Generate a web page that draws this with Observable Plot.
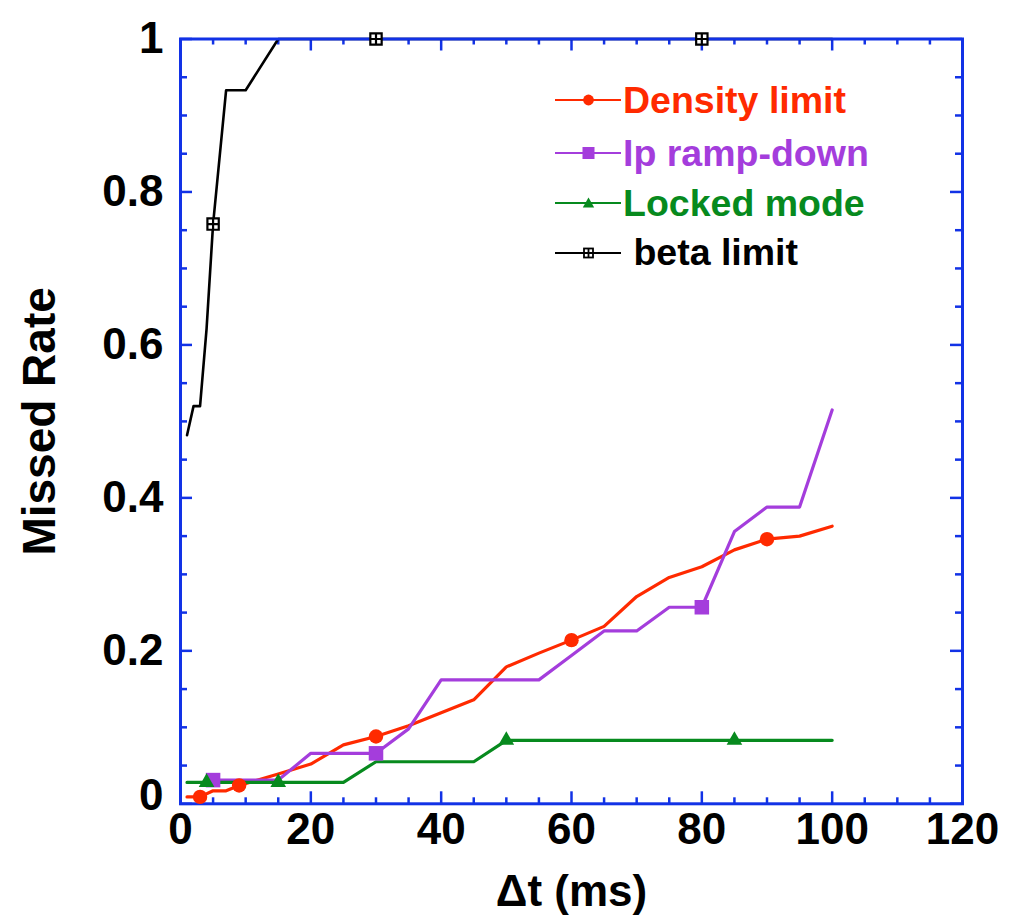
<!DOCTYPE html>
<html><head><meta charset="utf-8">
<script src="https://cdn.jsdelivr.net/npm/d3@7"></script>
<script src="https://cdn.jsdelivr.net/npm/@observablehq/plot@0.6"></script>
<style>
html,body{margin:0;padding:0;background:#fff;}
#wrap{position:relative;width:1024px;height:917px;}
.leg{position:absolute;left:555px;height:44px;display:flex;align-items:center;font-family:"Liberation Sans",Arial,sans-serif;font-weight:bold;font-size:37.5px;white-space:pre;}
.leg svg{display:block;margin-right:2px;}
</style></head>
<body><div id="wrap"></div>
<script>
// ---- data ----
const densityX = [1, 3, 5, 7, 9, 15, 20, 25, 30, 35, 40, 45, 50, 55, 60, 65, 70, 75, 80, 85, 90, 95, 100];
const densityY = [0.009, 0.009, 0.017, 0.017, 0.024, 0.039, 0.052, 0.077, 0.088, 0.102, 0.119, 0.136, 0.179, 0.197, 0.214, 0.232, 0.271, 0.296, 0.310, 0.332, 0.346, 0.350, 0.363];
const densityMarkX = [3, 9, 30, 60, 90];

const rampX = [5, 10, 15, 20, 25, 30, 35, 40, 45, 50, 55, 60, 65, 70, 75, 80, 85, 90, 95, 100];
const rampY = [0.031, 0.031, 0.031, 0.066, 0.066, 0.066, 0.098, 0.162, 0.162, 0.162, 0.162, 0.194, 0.226, 0.226, 0.257, 0.257, 0.356, 0.388, 0.388, 0.515];
const rampMarkX = [5, 30, 80];

const lockedX = [1, 4, 10, 15, 20, 25, 30, 35, 40, 45, 50, 55, 60, 65, 70, 75, 80, 85, 90, 95, 100];
const lockedY = [0.028, 0.028, 0.028, 0.028, 0.028, 0.028, 0.055, 0.055, 0.055, 0.055, 0.083, 0.083, 0.083, 0.083, 0.083, 0.083, 0.083, 0.083, 0.083, 0.083, 0.083];
const lockedMarkX = [4, 15, 50, 85];

const betaX = [1, 2, 3, 4, 5, 7, 10, 15, 20, 25, 30, 35, 40, 45, 50, 55, 60, 65, 70, 75, 80, 85, 90, 95, 100];
const betaY = [0.482, 0.52, 0.52, 0.621, 0.758, 0.933, 0.933, 1, 1, 1, 1, 1, 1, 1, 1, 1, 1, 1, 1, 1, 1, 1, 1, 1, 1];
const betaMarkX = [5, 30, 80];

const seriesNames = ["Density limit", "Ip ramp-down", "Locked mode", " beta limit"];
const xTicks = [0, 20, 40, 60, 80, 100, 120];
const xMinor = [5, 10, 15, 25, 30, 35, 45, 50, 55, 65, 70, 75, 85, 90, 95, 105, 110, 115];
const yTicks = [0, 0.2, 0.4, 0.6, 0.8, 1];
const yMinor = [0.05, 0.1, 0.15, 0.25, 0.3, 0.35, 0.45, 0.5, 0.55, 0.65, 0.7, 0.75, 0.85, 0.9, 0.95];
const xLabel = "Δt (ms)";
const yLabel = "Missed Rate";

// ---- styles ----
const RED = "#ff2a00", PURPLE = "#a43ddc", GREEN = "#078a1e", BLACK = "#000000", BLUE = "#1232e6";
const W = 1024, H = 917, mL = 180, mR = 62, mT = 38.5, mB = 113.7;
const plotW = W - mL - mR, plotH = H - mT - mB;

const rows = (xs, ys) => xs.map((x, i) => ({x, y: ys[i]}));
const marks = (xs, ys, mx) => rows(xs, ys).filter(d => mx.includes(d.x));
const dens = rows(densityX, densityY), ramp = rows(rampX, rampY), lock = rows(lockedX, lockedY), beta = rows(betaX, betaY);

const boxPlus = {draw(ctx, size) {
  const s = Math.sqrt(size) / 2;
  ctx.moveTo(-s, -s); ctx.lineTo(s, -s); ctx.lineTo(s, s); ctx.lineTo(-s, s); ctx.closePath();
  ctx.moveTo(-s, 0); ctx.lineTo(s, 0); ctx.moveTo(0, -s); ctx.lineTo(0, s);
}};

const tickStyle = {stroke: BLUE, strokeWidth: 2.5};
const fmt = d3.format("~g");

const chart = Plot.plot({
  width: W, height: H,
  marginLeft: mL, marginRight: mR, marginTop: mT, marginBottom: mB,
  style: {fontFamily: "'Liberation Sans', Arial, sans-serif", fontWeight: "bold", background: "#fff", color: "#000"},
  x: {domain: [0, 120]},
  y: {domain: [0, 1]},
  marks: [
    // ticks on all four sides, pointing inward
    Plot.tickX(xMinor, {x: d => d, insetTop: plotH - 6, ...tickStyle}),
    Plot.tickX(xMinor, {x: d => d, insetBottom: plotH - 6, ...tickStyle}),
    Plot.tickX(xTicks, {x: d => d, insetTop: plotH - 12, ...tickStyle}),
    Plot.tickX(xTicks, {x: d => d, insetBottom: plotH - 12, ...tickStyle}),
    Plot.tickY(yMinor, {y: d => d, insetRight: plotW - 7, ...tickStyle}),
    Plot.tickY(yMinor, {y: d => d, insetLeft: plotW - 7, ...tickStyle}),
    Plot.tickY(yTicks, {y: d => d, insetRight: plotW - 12, ...tickStyle}),
    Plot.tickY(yTicks, {y: d => d, insetLeft: plotW - 12, ...tickStyle}),
    // lines
    Plot.line(dens, {x: "x", y: "y", stroke: RED, strokeWidth: 3.2}),
    Plot.line(ramp, {x: "x", y: "y", stroke: PURPLE, strokeWidth: 3.2}),
    Plot.line(lock, {x: "x", y: "y", stroke: GREEN, strokeWidth: 3.2}),
    Plot.line(beta, {x: "x", y: "y", stroke: BLACK, strokeWidth: 2.6}),
    Plot.frame({stroke: BLUE, strokeWidth: 3}),
    // markers
    Plot.dot(marks(densityX, densityY, densityMarkX), {x: "x", y: "y", r: 7.2, fill: RED}),
    Plot.dot(marks(rampX, rampY, rampMarkX), {x: "x", y: "y", r: 8.2, symbol: "square", fill: PURPLE}),
    Plot.dot(marks(lockedX, lockedY, lockedMarkX), {x: "x", y: "y", r: 5.8, symbol: "triangle", fill: GREEN}),
    Plot.dot(marks(betaX, betaY, betaMarkX), {x: "x", y: "y", r: 6.4, symbol: boxPlus, fill: "#fff", stroke: BLACK, strokeWidth: 2.2}),
    // axes (labels only)
    Plot.axisX({ticks: xTicks, tickSize: 0, tickPadding: 9, tickFormat: fmt, fontSize: 44, fontWeight: "bold", label: null}),
    Plot.axisY({ticks: yTicks.slice(1), tickSize: 0, tickPadding: 17, tickFormat: fmt, fontSize: 44, fontWeight: "bold", label: null}),
    Plot.axisY({ticks: [0], tickSize: 0, tickPadding: 17, dy: -8, tickFormat: fmt, fontSize: 44, fontWeight: "bold", label: null}),
    Plot.text([xLabel], {text: d => d, frameAnchor: "bottom", textAnchor: "middle", lineAnchor: "middle", dy: 88, fontSize: 44, fontWeight: "bold"}),
    Plot.text([yLabel], {text: d => d, frameAnchor: "left", textAnchor: "middle", lineAnchor: "middle", dx: -140, rotate: -90, fontSize: 46, fontWeight: "bold"})
  ]
});

const wrap = document.getElementById("wrap");
wrap.appendChild(chart);

// ---- legend (overlay inside the plot area) ----
const legendColors = [RED, PURPLE, GREEN, BLACK];
const legendCy = [100, 153, 203, 252.5];
const legendSym = [
  '<circle cx="33.5" cy="15" r="5.4" fill="' + RED + '"/>',
  '<rect x="27.5" y="9" width="12" height="12" fill="' + PURPLE + '"/>',
  '<path d="M33.5,9.5 L39.2,19.5 L27.8,19.5 Z" fill="' + GREEN + '"/>',
  '<rect x="29" y="10.5" width="9" height="9" fill="#fff" stroke="#000" stroke-width="1.8"/><path d="M29,15H38M33.5,10.5V19.5" stroke="#000" stroke-width="1.8"/>'
];
seriesNames.forEach((name, i) => {
  const row = document.createElement("div");
  row.className = "leg";
  row.style.top = (legendCy[i] - 22) + "px";
  row.style.color = legendColors[i];
  row.innerHTML = '<svg width="66" height="30" viewBox="0 0 66 30"><line x1="0" y1="15" x2="66" y2="15" stroke="' + legendColors[i] + '" stroke-width="2.2"/>' + legendSym[i] + '</svg><span>' + name.replace(/^ /, "\u00a0") + '</span>';
  wrap.appendChild(row);
});
</script></body></html>
